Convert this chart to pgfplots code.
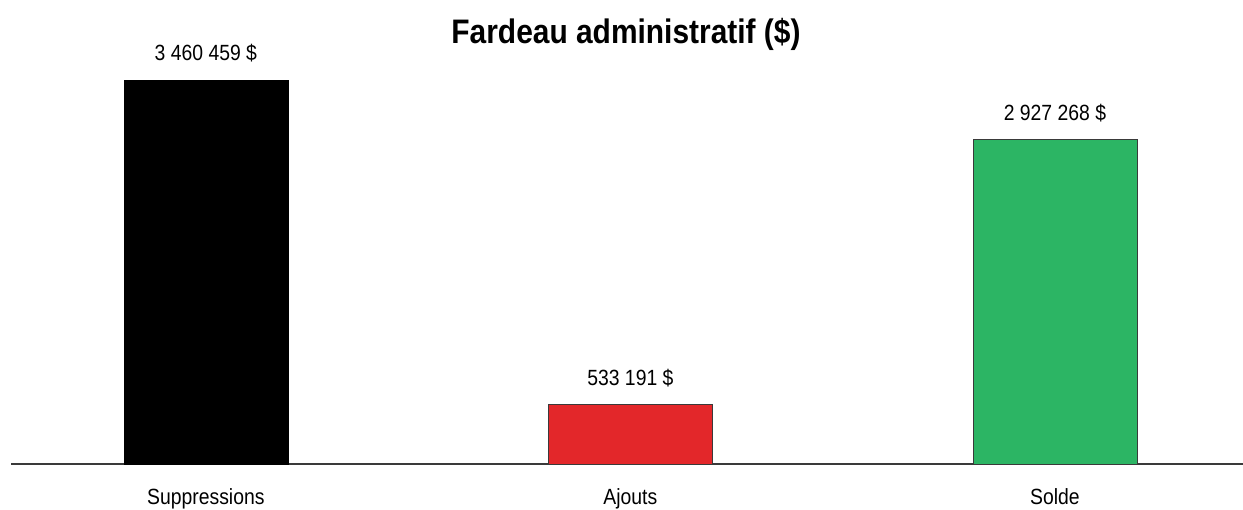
\documentclass[border=0pt]{standalone}
\usepackage{pgfplots}
\pgfplotsset{compat=1.18}
\usepackage{fontspec}
\setmainfont{Liberation Sans}[FakeStretch=0.88]
\definecolor{barred}{HTML}{E3272A}
\definecolor{bargreen}{HTML}{2CB564}
\definecolor{edge}{HTML}{3A3A3A}
\begin{document}
\begin{tikzpicture}
\useasboundingbox (0,0) rectangle (1243pt,510pt);
\node[anchor=base,font=\fontsize{34}{40}\selectfont\bfseries] at (626pt,466pt) {Fardeau administratif (\$)};
\begin{axis}[
  at={(11pt,46pt)}, anchor=south west,
  scale only axis, width=1232pt, height=464pt,
  xmin=-0.459, xmax=2.443,
  ymin=0, ymax=4181388,
  axis x line*=bottom, axis y line=none,
  x axis line style={draw=edge, line width=1.4pt, -},
  xtick={0,1,2}, xticklabels={Suppressions,Ajouts,Solde},
  major tick length=0pt,
  xticklabel style={anchor=base, yshift=-41pt, font=\fontsize{22}{26}\selectfont},
  ybar, bar width=164pt, bar shift=0pt,
  clip=false,
  /pgf/number format/.cd, fixed, precision=0, 1000 sep={\ }, assume math mode=true,
  /pgfplots/.cd,
  point meta=rawy,
  nodes near coords={\pgfmathprintnumber{\pgfplotspointmeta}\ \$},
  every node near coord/.append style={anchor=base, yshift=19pt, font=\fontsize{22}{26}\selectfont, text=black},
]
\addplot[fill=black, draw=black] coordinates {(0,3460459)};
\addplot[fill=barred, draw=edge, line width=0.8pt] coordinates {(1,533191)};
\addplot[fill=bargreen, draw=edge, line width=0.8pt] coordinates {(2,2927268)};
\end{axis}
\end{tikzpicture}
\end{document}
